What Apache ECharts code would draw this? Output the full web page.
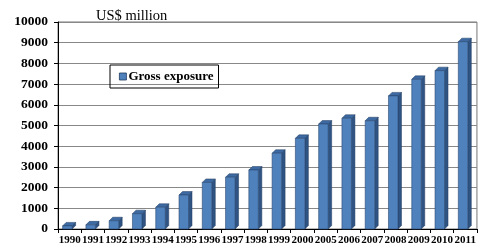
<!DOCTYPE html>
<html>
<head>
<meta charset="utf-8">
<script src="https://cdn.jsdelivr.net/npm/echarts@6/dist/echarts.min.js"></script>
<style>
  html, body { margin: 0; padding: 0; background: #fff; }
  #main { width: 479px; height: 249px; }
</style>
</head>
<body>
<div id="main"></div>
<script>
// data
var years = ['1990', '1991', '1992', '1993', '1994', '1995', '1996', '1997', '1998', '1999', '2000',
    '2005', '2006', '2007', '2008', '2009', '2010', '2011'];
var grossExposure = [150, 200, 400, 740, 1050, 1640, 2250, 2500, 2850, 3660, 4380,
    5070, 5350, 5230, 6430, 7230, 7650, 9050];
var yTicks = [0, 10000, 1000]; // min, max, step

var myChart = echarts.init(document.getElementById('main'));

var serif = '"Liberation Serif", "Times New Roman", serif';

// draws a bar with a little depth (front, side and top face)
function bar3d(params, api) {
    var cat = api.value(0);
    var val = api.value(1);
    var top = api.coord([cat, val]);
    var base = api.coord([cat, 0]);
    var w = 9.5, d = 3.5;
    var x0 = top[0] - 7, x1 = x0 + w;
    var y0 = top[1], y1 = base[1];
    return {
        type: 'group',
        children: [
            {
                type: 'polygon',
                shape: { points: [[x1, y0], [x1 + d, y0 - d], [x1 + d, y1 - d], [x1, y1]] },
                style: { fill: '#2f5483', stroke: '#1f3a5e', lineWidth: 0.5 }
            },
            {
                type: 'polygon',
                shape: { points: [[x0, y0], [x0 + d, y0 - d], [x1 + d, y0 - d], [x1, y0]] },
                style: { fill: '#3d6aa3', stroke: '#1f3a5e', lineWidth: 0.5 }
            },
            {
                type: 'rect',
                shape: { x: x0, y: y0, width: w, height: y1 - y0 },
                style: { fill: '#4f81bd', stroke: '#2b4a72', lineWidth: 0.6 }
            }
        ]
    };
}

var option = {
    animation: false,
    title: {
        text: 'US$ million',
        left: 91,
        top: 4,
        textStyle: { fontFamily: serif, fontSize: 14.5, fontWeight: 'normal', color: '#000' }
    },
    legend: {
        left: 110,
        top: 65,
        orient: 'vertical',
        padding: [5, 5, 5, 9],
        borderColor: '#000',
        borderWidth: 1,
        itemWidth: 7,
        itemHeight: 7,
        itemGap: 4,
        icon: 'rect',
        data: [{ name: 'Gross exposure', itemStyle: { color: '#4f81bd', borderColor: '#1f3a5e', borderWidth: 0.8 } }],
        textStyle: { fontFamily: serif, fontSize: 13, fontWeight: 'bold', color: '#000', padding: [0, 0, 0, -3] }
    },
    grid: {
        left: 58,
        right: 2,
        top: 22,
        bottom: 20,
        show: true,
        borderColor: '#777',
        borderWidth: 1
    },
    xAxis: {
        type: 'category',
        data: years,
        axisLine: { lineStyle: { color: '#000' } },
        axisTick: { show: true, length: 4, lineStyle: { color: '#000' } },
        axisLabel: {
            interval: 0,
            margin: 6,
            fontFamily: serif,
            fontSize: 11,
            fontWeight: 'bold',
            color: '#000'
        }
    },
    yAxis: {
        type: 'value',
        min: yTicks[0],
        max: yTicks[1],
        interval: yTicks[2],
        axisLine: { show: true, lineStyle: { color: '#000' } },
        axisTick: { show: true, length: 4, lineStyle: { color: '#000' } },
        splitLine: { lineStyle: { color: '#888', width: 1 } },
        axisLabel: {
            margin: 10,
            fontFamily: serif,
            fontSize: 13.5,
            fontWeight: 'bold',
            color: '#000',
            formatter: function (v) { return String(v); }
        }
    },
    series: [
        {
            name: 'Gross exposure',
            type: 'custom',
            renderItem: bar3d,
            encode: { x: 0, y: 1 },
            data: grossExposure.map(function (v, i) { return [i, v]; })
        }
    ]
};

myChart.setOption(option);
</script>
</body>
</html>
